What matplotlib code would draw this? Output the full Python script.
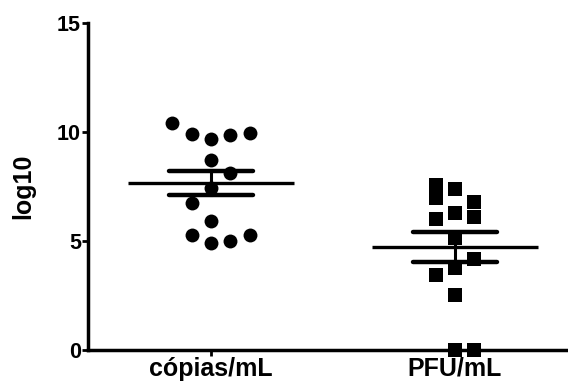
import matplotlib.pyplot as plt
import numpy as np

plt.rcParams['font.family'] = ['Liberation Sans', 'DejaVu Sans']
plt.rcParams['font.weight'] = 'bold'

groups = ["cópias/mL", "PFU/mL"]

# column index of each point inside its group (scatter spread) and value
copias_col = [-2, -1, 0, 1, 2, 0, 1, 0, -1, 0, -1, 0, 1, 2]
copias_val = [10.40, 9.93, 9.66, 9.86, 9.97, 8.72, 8.13, 7.42, 6.76, 5.93, 5.28, 4.89, 5.01, 5.28]

pfu_col = [-1, -1, 0, 1, -1, 0, 1, 0, 1, 0, -1, 0, 0, 1]
pfu_val = [7.57, 6.96, 7.37, 6.80, 6.01, 6.30, 6.09, 5.12, 4.16, 3.75, 3.44, 2.52, 0.0, 0.0]

fig = plt.figure(figsize=(5.68, 3.87), dpi=100)
ax = fig.add_axes([0.155, 0.0956, 0.845, 0.845])

col_step = 0.079
series = [(copias_col, copias_val, 'o', 100),
          (pfu_col, pfu_val, 's', 88)]

for i, (cols, vals, mk, size) in enumerate(series):
    c = i + 1
    x = c + np.array(cols) * col_step
    y = np.array(vals)
    ax.scatter(x, y, marker=mk, s=size, color='black', linewidths=0,
               clip_on=False, zorder=3)
    m = y.mean()
    sem = y.std(ddof=1) / np.sqrt(len(y))
    ax.plot([c - 0.34, c + 0.34], [m, m], color='black', lw=2.4,
            solid_capstyle='butt', zorder=4)
    for v in (m - sem, m + sem):
        ax.plot([c - 0.174, c + 0.174], [v, v], color='black', lw=3.2,
                solid_capstyle='round', zorder=4)
    ax.plot([c, c], [m - sem, m + sem], color='black', lw=2.2, zorder=4)

ax.set_xlim(0.496, 2.463)
ax.set_ylim(0, 15)
ax.set_yticks([0, 5, 10, 15])
ax.set_xticks([1, 2])
ax.set_xticklabels(groups)
ax.tick_params(axis='y', direction='out', length=4, width=2, labelsize=15.5, pad=1)
ax.tick_params(axis='x', direction='out', length=4, width=2, labelsize=18, pad=1)
for lab in ax.get_xticklabels() + ax.get_yticklabels():
    lab.set_fontweight('bold')

ax.set_ylabel('log10', fontsize=18, fontweight='bold', labelpad=16)

ax.spines['top'].set_visible(False)
ax.spines['right'].set_visible(False)
ax.spines['left'].set_linewidth(2.5)
ax.spines['bottom'].set_linewidth(2.5)

fig.savefig('out.png', dpi=100)
plt.close()
